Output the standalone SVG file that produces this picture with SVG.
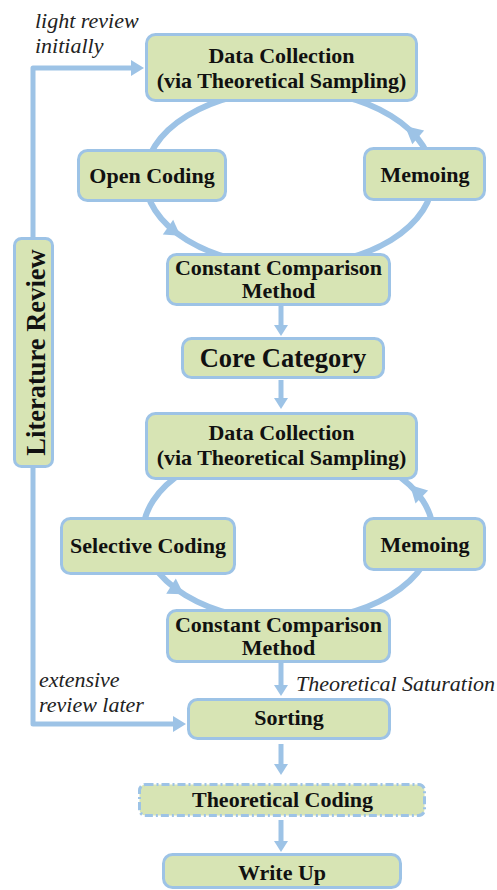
<svg xmlns="http://www.w3.org/2000/svg" width="497" height="890" viewBox="0 0 497 890">
<defs>
<style>
.box{fill:#d7e4b4;stroke:#9dc3e6;stroke-width:3}
.dash{fill:#d7e4b4;stroke:#9dc3e6;stroke-width:3;stroke-dasharray:8 3 2 3}
.t{font-weight:bold;font-size:22px;fill:#111;text-anchor:middle}
.big{font-size:26.5px}
.it{font-style:italic;font-size:22px;fill:#222}
.ln{fill:none;stroke:#9dc3e6;stroke-width:5;stroke-linejoin:round}
.cyc{fill:none;stroke:#9dc3e6;stroke-width:6}
.ah{fill:#9dc3e6}
</style>
<marker id="arr" markerUnits="userSpaceOnUse" markerWidth="11" markerHeight="14" viewBox="0 0 11 14" refX="1" refY="7" orient="auto">
<path d="M0,0 L11,7 L0,14 z" fill="#9dc3e6"/>
</marker>
<marker id="arrL" markerUnits="userSpaceOnUse" markerWidth="13" markerHeight="16" viewBox="0 0 13 16" refX="1" refY="8" orient="auto">
<path d="M0,0 L13,8 L0,16 z" fill="#9dc3e6"/>
</marker>
</defs>

<g id="connectors">
<ellipse class="cyc" cx="289" cy="178" rx="144" ry="88"/>
<polygon class="ah" points="180.3,235.7 162.8,234.5 173.2,219.7"/>
<polygon class="ah" points="405,126 424.1,130.6 412.3,144.2"/>
<ellipse class="cyc" cx="288" cy="533" rx="145" ry="88"/>
<polygon class="ah" points="183.7,594.2 166.2,593.8 175.8,578.6"/>
<polygon class="ah" points="410,485 428.1,490.4 415.5,503.4"/>
<path class="ln" d="M33,400 V68 H132" marker-end="url(#arrL)"/>
<path class="ln" d="M33,400 V724 H174" marker-end="url(#arrL)"/>
<path class="ln" d="M281,306 V326" marker-end="url(#arr)"/>
<path class="ln" d="M281,380 V399" marker-end="url(#arr)"/>
<path class="ln" d="M281,663 V686" marker-end="url(#arr)"/>
<path class="ln" d="M281,744 V765" marker-end="url(#arr)"/>
<path class="ln" d="M281,820 V842" marker-end="url(#arr)"/>
</g>

<g font-family="Liberation Serif, DejaVu Serif, serif">
<g id="dc1"><rect class="box" x="146.5" y="34.5" width="270" height="66" rx="9"/>
<text class="t" x="281.5" y="63">Data Collection</text>
<text class="t" x="281.5" y="88">(via Theoretical Sampling)</text></g>

<g id="open-coding"><rect class="box" x="78.5" y="150.5" width="147" height="50" rx="9"/>
<text class="t" x="152" y="183">Open Coding</text></g>

<g id="memoing1"><rect class="box" x="364.5" y="148.5" width="120" height="51" rx="9"/>
<text class="t" x="425" y="182">Memoing</text></g>

<g id="ccm1"><rect class="box" x="167.5" y="254.5" width="222" height="50" rx="9"/>
<text class="t" x="278.5" y="275">Constant Comparison</text>
<text class="t" x="278.5" y="298">Method</text></g>

<g id="core"><rect class="box" x="182.5" y="338.5" width="201" height="39" rx="9"/>
<text class="t big" x="283" y="367">Core Category</text></g>

<g id="dc2"><rect class="box" x="146.5" y="413.5" width="270" height="65" rx="9"/>
<text class="t" x="281.5" y="440">Data Collection</text>
<text class="t" x="281.5" y="465">(via Theoretical Sampling)</text></g>

<g id="selective"><rect class="box" x="61.5" y="518.5" width="173" height="55" rx="9"/>
<text class="t" x="148" y="553">Selective Coding</text></g>

<g id="memoing2"><rect class="box" x="364.5" y="518.5" width="120" height="51" rx="9"/>
<text class="t" x="425" y="552">Memoing</text></g>

<g id="ccm2"><rect class="box" x="167.5" y="610.5" width="222" height="51" rx="9"/>
<text class="t" x="278.5" y="632">Constant Comparison</text>
<text class="t" x="278.5" y="655">Method</text></g>

<g id="sorting"><rect class="box" x="188.5" y="699.5" width="201" height="39" rx="9"/>
<text class="t" x="289" y="725">Sorting</text></g>

<g id="theoretical-coding"><rect class="dash" x="139.5" y="784.5" width="285" height="31" rx="6"/>
<text class="t" x="282.5" y="807">Theoretical Coding</text></g>

<g id="write-up"><rect class="box" x="163.5" y="854.5" width="237" height="33" rx="9"/>
<text class="t" x="282" y="880">Write Up</text></g>

<g id="literature-review"><rect class="box" x="14.5" y="238.5" width="38" height="228" rx="7"/>
<text class="t big" transform="translate(44.5,352.5) rotate(-90)" x="0" y="0">Literature Review</text></g>

<g id="labels">
<text class="it" x="35" y="28">light review</text>
<text class="it" x="35" y="53">initially</text>
<text class="it" x="39" y="687">extensive</text>
<text class="it" x="39" y="712">review later</text>
<text class="it" x="296" y="691">Theoretical Saturation</text>
</g>
</g>
</svg>
